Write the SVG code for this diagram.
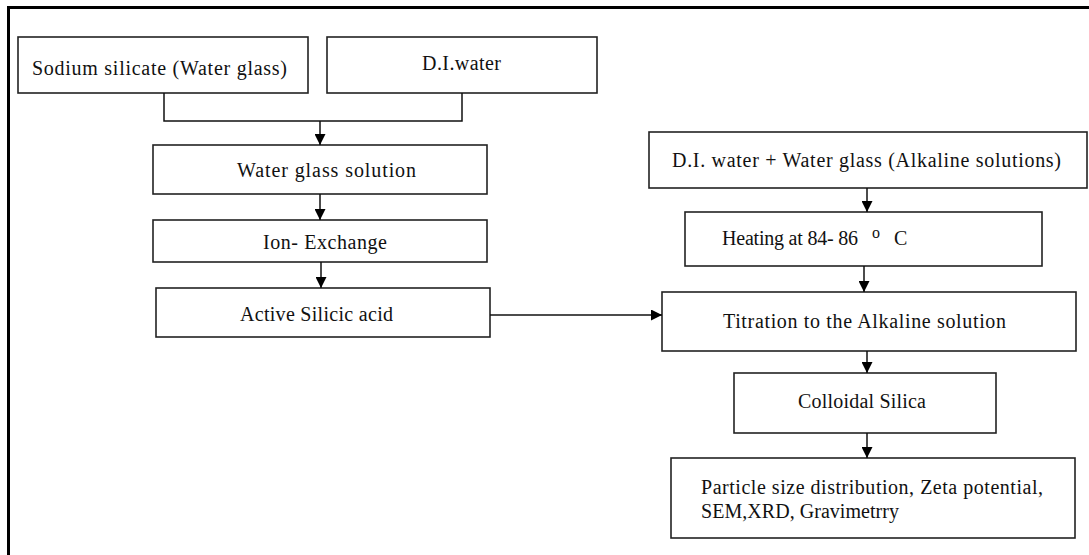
<svg xmlns="http://www.w3.org/2000/svg" width="1089" height="555" viewBox="0 0 1089 555">
<style>
.box{fill:#fff;stroke:#222;stroke-width:1.6}
.t{font-family:'Liberation Serif','Times New Roman','DejaVu Serif',serif;font-size:20px;fill:#111}
.c{fill:none;stroke:#111;stroke-width:1.5}
</style>
<defs>
<marker id="ah" markerUnits="userSpaceOnUse" markerWidth="11" markerHeight="11" viewBox="0 0 10 10" refX="10" refY="5" orient="auto">
<path d="M0,0 L10,5 L0,10 z" fill="#000"/>
</marker>
</defs>
<rect width="1089" height="555" fill="#fff"/>
<path d="M8.5,555 L8.5,7.5 L1089,7.5" fill="none" stroke="#000" stroke-width="3"/>
<g id="n1"><rect class="box" x="18" y="37" width="290" height="56"/><text class="t" x="32" y="75" textLength="255">Sodium silicate (Water glass)</text></g>
<g id="n2"><rect class="box" x="327" y="37" width="270" height="56"/><text class="t" x="422" y="70" textLength="79">D.I.water</text></g>
<g id="n3"><rect class="box" x="153" y="145" width="334" height="49"/><text class="t" x="237" y="177" textLength="179">Water glass solution</text></g>
<g id="n4"><rect class="box" x="153" y="220" width="334" height="42"/><text class="t" x="263" y="249" textLength="124">Ion- Exchange</text></g>
<g id="n5"><rect class="box" x="156" y="288" width="334" height="49"/><text class="t" x="240" y="321" textLength="153">Active Silicic acid</text></g>
<g id="n6"><rect class="box" x="649" y="132" width="438" height="56"/><text class="t" x="672" y="167" textLength="389">D.I. water + Water glass  (Alkaline solutions)</text></g>
<g id="n7"><rect class="box" x="685" y="212" width="357" height="54"/><text class="t" x="722" y="245"><tspan textLength="136">Heating at 84- 86</tspan><tspan x="872" y="238" font-size="16">o</tspan><tspan x="894" y="245">C</tspan></text></g>
<g id="n8"><rect class="box" x="662" y="292" width="414" height="59"/><text class="t" x="723" y="328" textLength="283">Titration to the Alkaline solution</text></g>
<g id="n9"><rect class="box" x="734" y="373" width="262" height="60"/><text class="t" x="798" y="408" textLength="128">Colloidal Silica</text></g>
<g id="n10"><rect class="box" x="671" y="458" width="404" height="80"/><text class="t" x="701" y="494" textLength="342">Particle size distribution, Zeta potential,</text><text class="t" x="701" y="518" textLength="198">SEM,XRD, Gravimetrry</text></g>
<g id="connectors">
<polyline class="c" points="164,93 164,121 462,121 462,93"/>
<line class="c" x1="320" y1="121" x2="320" y2="145" marker-end="url(#ah)"/>
<line class="c" x1="320" y1="194" x2="320" y2="220" marker-end="url(#ah)"/>
<line class="c" x1="321" y1="262" x2="321" y2="288" marker-end="url(#ah)"/>
<line class="c" x1="490" y1="315" x2="662" y2="315" marker-end="url(#ah)"/>
<line class="c" x1="867" y1="188" x2="867" y2="212" marker-end="url(#ah)"/>
<line class="c" x1="864" y1="266" x2="864" y2="292" marker-end="url(#ah)"/>
<line class="c" x1="867" y1="351" x2="867" y2="373" marker-end="url(#ah)"/>
<line class="c" x1="867" y1="433" x2="867" y2="458" marker-end="url(#ah)"/>
</g>
</svg>
